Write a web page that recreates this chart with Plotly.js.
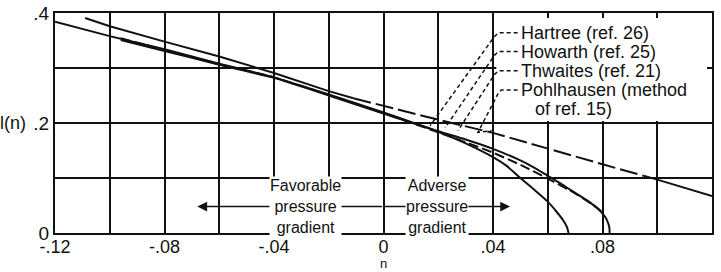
<!DOCTYPE html>
<html>
<head>
<meta charset="utf-8">
<script src="https://cdn.plot.ly/plotly-3.0.1.min.js"></script>
<style>html,body{margin:0;padding:0;background:#fff;}#chart{width:721px;height:272px;}</style>
</head>
<body>
<div id="chart"></div>
<script>
// ---- tick labels ----
const xTickVals = [-0.12,-0.10,-0.08,-0.06,-0.04,-0.02,0,0.02,0.04,0.06,0.08,0.10,0.12];
const xTickText = ["-.12","","-.08","","-.04","","0","",".04","",".08","",".12"];
const yTickVals = [0,0.1,0.2,0.3,0.4];
const yTickText = ["0","",".2","",".4"];

// ---- series (n, l(n)) ----
const hartreeN = [-0.12,-0.10,-0.08,-0.06,-0.04,-0.02,0,0.01,0.02,0.03,0.04,0.045,0.05,0.055,0.06,0.063,0.0655,0.067,0.0676];
const hartreeL = [0.384,0.358,0.334,0.308,0.283,0.252,0.219,0.202,0.184,0.163,0.138,0.122,0.100,0.079,0.057,0.040,0.024,0.011,0.0];

const howarthN = [-0.096,-0.08,-0.06,-0.04,-0.02,0,0.02,0.03,0.04,0.05,0.055,0.06,0.065,0.07,0.075,0.079,0.081,0.082,0.0825,0.0826];
const howarthL = [0.351,0.331,0.306,0.282,0.250,0.217,0.185,0.170,0.153,0.132,0.119,0.104,0.089,0.073,0.057,0.041,0.029,0.019,0.010,0.0];

const thwaitesN = [-0.096,-0.08,-0.06,-0.04,-0.02,0,0.02,0.03,0.04,0.05,0.06,0.07,0.076,0.0795];
const thwaitesL = [0.354,0.333,0.307,0.283,0.251,0.218,0.183,0.165,0.146,0.124,0.099,0.072,0.053,0.040];

const pohlN = [-0.109,-0.10,-0.08,-0.06,-0.04,-0.02,-0.011,0,0.02,0.04,0.06,0.08,0.095,0.10,0.12];
const pohlL = [0.391,0.376,0.348,0.321,0.291,0.258,0.245,0.231,0.206,0.182,0.153,0.125,0.104,0.097,0.067];

const legendNames = ["Hartree (ref. 26)","Howarth (ref. 25)","Thwaites (ref. 21)","Pohlhausen (method","of ref. 15)"];
const regionText = {fav:["Favorable","pressure","gradient"], adv:["Adverse","pressure","gradient"]};
const axisTitleX = "n";
const axisTitleY = "l(n)";

const FONT = "Liberation Sans, Arial, sans-serif";
const INK = "#111";

function tr(x, y, dash, smooth){
  return {x:x, y:y, type:"scatter", mode:"lines", hoverinfo:"skip", showlegend:false,
          line:{color:INK, width:2, dash:dash||"solid", shape: smooth ? "spline" : "linear", smoothing: smooth||0}};
}
const traces = [
  tr(hartreeN, hartreeL, "solid", 0.6),
  tr(howarthN, howarthL, "solid", 0.6),
  tr(thwaitesN, thwaitesL, "10px,4px", 0.6),
  tr(pohlN.slice(0,7), pohlL.slice(0,7), "solid"),
  tr(pohlN.slice(6,13), pohlL.slice(6,13), "18px,5px"),
  tr(pohlN.slice(12), pohlL.slice(12), "solid")
];

// legend text annotations
const legY = [0.364, 0.330, 0.295, 0.260, 0.225];
const legX = [0.0495, 0.0495, 0.0495, 0.0495, 0.0545];
const annotations = [];
legendNames.forEach((t,i)=>{
  annotations.push({x:legX[i], y:legY[i], xref:"x", yref:"y", text:t, showarrow:false,
    xanchor:"left", yanchor:"middle", font:{family:FONT, size:18, color:INK}});
});
// arrows
annotations.push({x:-0.068, y:0.048, ax:0, ay:0.048, xref:"x", yref:"y", axref:"x", ayref:"y",
  text:"", showarrow:true, arrowhead:2, arrowsize:1.3, arrowwidth:1.5, arrowcolor:INK, standoff:0, startstandoff:0});
annotations.push({x:0.0462, y:0.048, ax:0, ay:0.048, xref:"x", yref:"y", axref:"x", ayref:"y",
  text:"", showarrow:true, arrowhead:2, arrowsize:1.3, arrowwidth:1.5, arrowcolor:INK, standoff:0, startstandoff:0});
annotations.push({x:-0.0285, y:0.048, xref:"x", yref:"y", text:regionText.fav.join("<br>"), showarrow:false,
  bgcolor:"#fff", borderpad:0, xanchor:"center", yanchor:"middle", font:{family:FONT, size:16, color:INK}});
annotations.push({x:0.0195, y:0.048, xref:"x", yref:"y", text:regionText.adv.join("<br>"), showarrow:false,
  bgcolor:"#fff", borderpad:0, xanchor:"center", yanchor:"middle", font:{family:FONT, size:16, color:INK}});
// axis titles
annotations.push({x:-0.041, y:0.5, xref:"paper", yref:"paper", text:axisTitleY, showarrow:false,
  xanchor:"right", yanchor:"middle", font:{family:FONT, size:18, color:INK}});
annotations.push({x:0.5, y:-0.101, xref:"paper", yref:"paper", text:axisTitleX, showarrow:false,
  xanchor:"center", yanchor:"top", borderpad:0, font:{family:FONT, size:13, color:INK}});

// shapes: white covers hiding grid, and dashed leader lines
const shapes = [
  {type:"rect", layer:"between", xref:"x", yref:"y", x0:-0.047, x1:-0.004, y0:0.003, y1:0.097, fillcolor:"#fff", line:{width:0}},
  {type:"rect", layer:"between", xref:"x", yref:"y", x0:0.004, x1:0.036, y0:0.003, y1:0.097, fillcolor:"#fff", line:{width:0}},
  {type:"rect", layer:"between", xref:"x", yref:"y", x0:0.0412, x1:0.1188, y0:0.2035, y1:0.3965, fillcolor:"#fff", line:{width:0}}
];
const leaders = [
  "M 0.0490 0.364 L 0.0420 0.364 L 0.0405 0.357 L 0.0170 0.195",
  "M 0.0490 0.330 L 0.0420 0.330 L 0.0405 0.323 L 0.0225 0.191",
  "M 0.0490 0.295 L 0.0420 0.295 L 0.0405 0.288 L 0.0272 0.186",
  "M 0.0490 0.260 L 0.0430 0.260 L 0.0418 0.253 L 0.0345 0.183 L 0.0395 0.186"
];
leaders.forEach(p=>shapes.push({type:"path", path:p, xref:"x", yref:"y", layer:"above",
  line:{color:INK, width:1.5, dash:"4px,3px"}}));

const axisCommon = {showline:true, mirror:"ticks", linecolor:INK, linewidth:2,
  showgrid:true, gridcolor:INK, gridwidth:2, zeroline:false,
  ticks:"inside", ticklen:5, tickwidth:2, tickcolor:INK,
  tickfont:{family:FONT, size:19, color:INK}, tickmode:"array"};

const layout = {
  width:721, height:272,
  margin:{l:55, r:9, t:13, b:39},
  paper_bgcolor:"#fff", plot_bgcolor:"#fff",
  showlegend:false,
  xaxis:Object.assign({}, axisCommon, {range:[-0.12,0.12], tickvals:xTickVals, ticktext:xTickText,
    ticklabelstandoff:-4, tickfont:{family:FONT, size:18, color:INK}}),
  yaxis:Object.assign({}, axisCommon, {range:[0,0.4], tickvals:yTickVals, ticktext:yTickText}),
  annotations:annotations,
  shapes:shapes
};

Plotly.newPlot("chart", traces, layout, {staticPlot:true, displayModeBar:false});
</script>
</body>
</html>
